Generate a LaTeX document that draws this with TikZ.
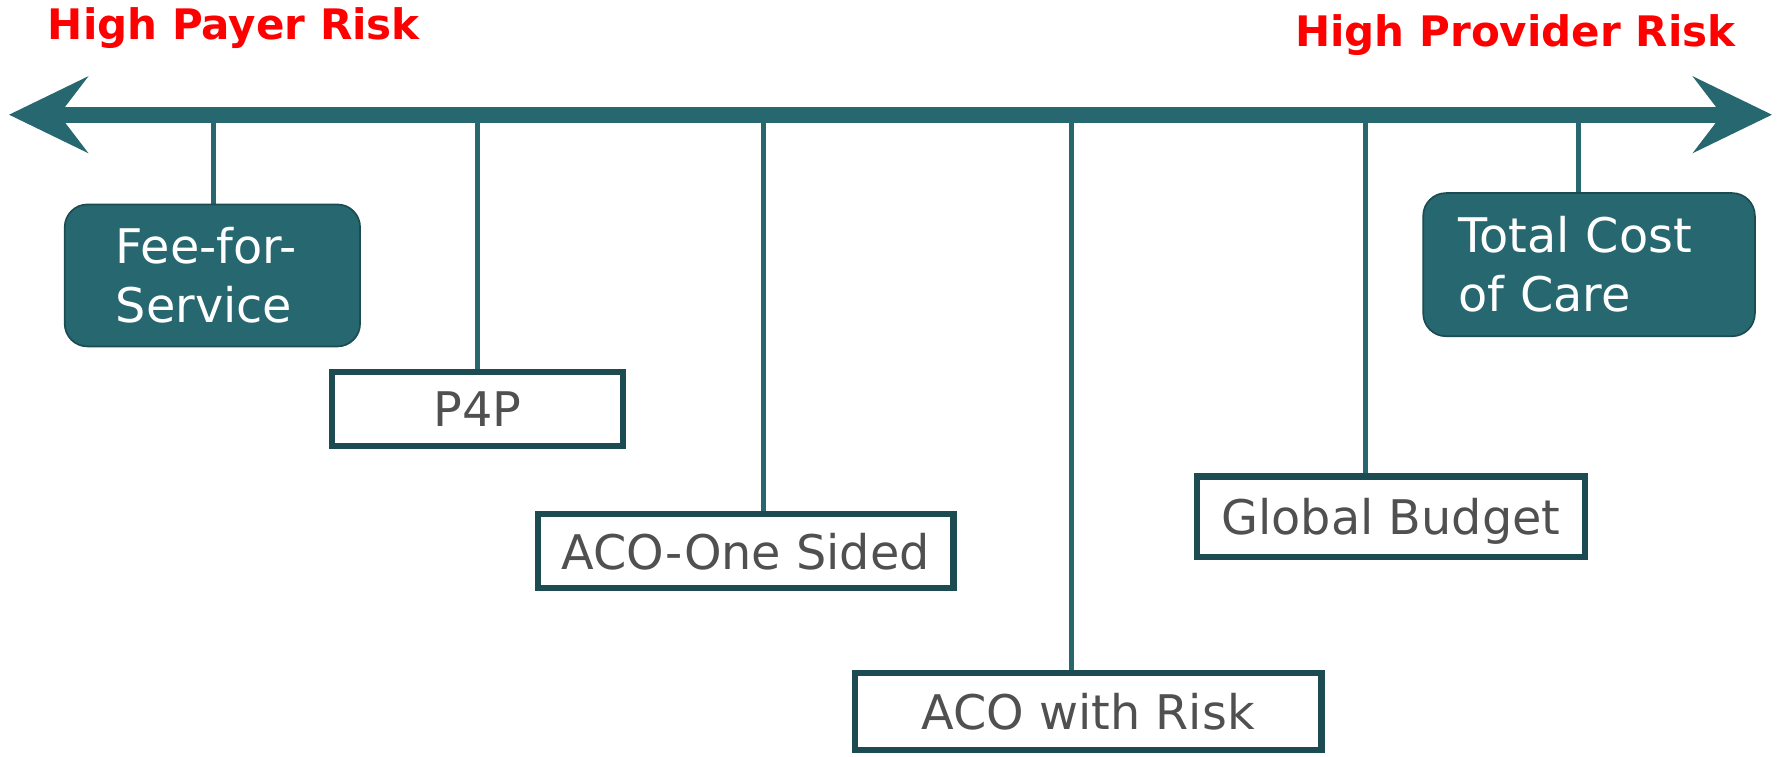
\documentclass[tikz,border=0pt]{standalone}
\usepackage{fontspec}
\setmainfont{DejaVu Sans}
\usetikzlibrary{arrows.meta,backgrounds}
\definecolor{tealmid}{HTML}{276870}
\definecolor{tealdark}{HTML}{1C4C51}
\definecolor{txtgray}{HTML}{505050}
\tikzset{
  whitebox/.style={draw=tealdark, line width=5.5pt, fill=white, text=txtgray, inner sep=0pt,
    text depth=0pt, font=\fontsize{42}{50}\selectfont},
  tealbox/.style={draw=tealdark, line width=1.5pt, fill=tealmid, text=white, rounded corners=20pt,
    inner ysep=0pt, align=left, font=\fontsize{42}{52}\selectfont},
  riskline/.style={tealmid, line width=4.5pt},
  risklabel/.style={text=red, inner sep=0pt, font=\bfseries\fontsize{37}{44}\selectfont},
  axistip/.tip={Stealth[length=70pt, width=68pt, inset=26pt, line width=0pt]}
}

\begin{document}
\begin{tikzpicture}[x=1pt, y=-1pt]
        \useasboundingbox (0,0) rectangle (1568,666);

        \node[risklabel, anchor=base west] (payer) at (42,35) {High Payer Risk};
        \node[risklabel, anchor=base east] (provider) at (1528,41) {High Provider Risk};

        \coordinate (lend) at (8,101);
        \coordinate (rend) at (1560,101);
        \coordinate (tk1) at (188,101);
        \coordinate (tk2) at (420,101);
        \coordinate (tk3) at (672,101);
        \coordinate (tk4) at (943,101);
        \coordinate (tk5) at (1202,101);
        \coordinate (tk6) at (1390,101);

        \node[tealbox, inner xsep=45pt, text width=170pt, minimum height=125pt] (ffs) at (187,242.5) {Fee-for-\\Service};
        \node[whitebox, minimum width=256pt, minimum height=65pt] (p4p) at (420.5,360) {P4P};
        \node[whitebox, minimum width=366pt, minimum height=65pt] (aco1) at (656.5,485) {ACO-One Sided};
        \node[whitebox, minimum width=411pt, minimum height=68pt] (acor) at (958,626.5) {ACO with Risk};
        \node[whitebox, minimum width=342pt, minimum height=71pt] (gb) at (1224.5,455) {Global Budget};
        \node[tealbox, inner xsep=31pt, text width=230pt, minimum height=126pt] (tcc) at (1399,233) {Total Cost\\of Care};

        \begin{scope}[on background layer]
        \draw[riskline] (tk1) -- (tk1 |- ffs.north);
        \draw[riskline] (tk2) -- (tk2 |- p4p.north);
        \draw[riskline] (tk3) -- (tk3 |- aco1.north);
        \draw[riskline] (tk4) -- (tk4 |- acor.north);
        \draw[riskline] (tk5) -- (tk5 |- gb.north);
        \draw[riskline] (tk6) -- (tk6 |- tcc.north);
        \end{scope}

        \draw[tealmid, line width=14pt, {axistip}-{axistip}] (lend) -- (rend);
\end{tikzpicture}
\end{document}
